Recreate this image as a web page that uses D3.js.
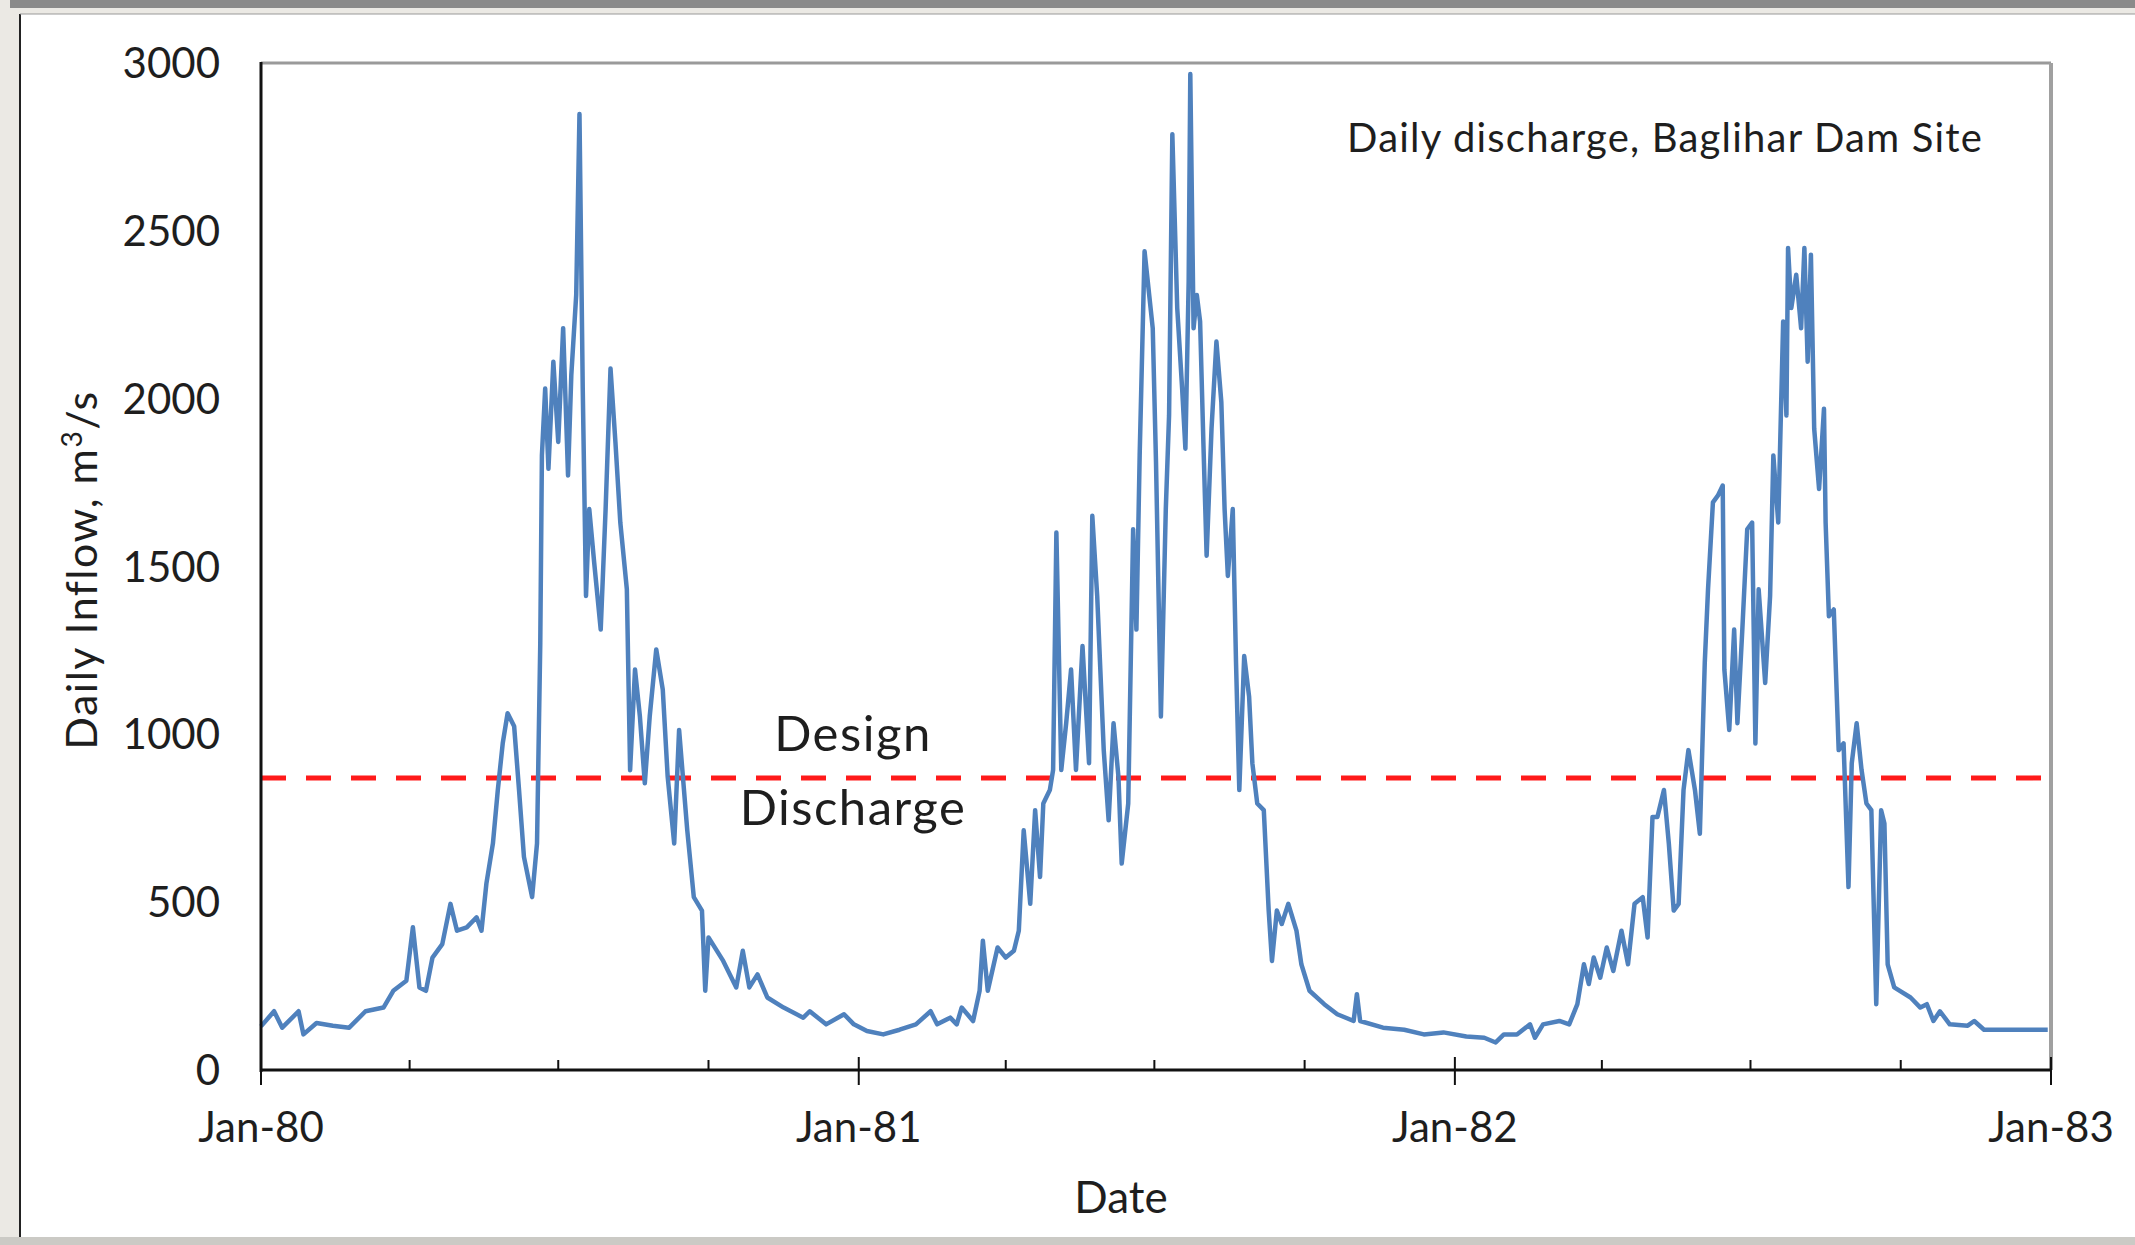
<!DOCTYPE html>
<html>
<head>
<meta charset="utf-8">
<script src="https://cdn.jsdelivr.net/npm/d3@7"></script>
<style>
  body { margin: 0; background: #ebe9e4; }
  svg { display: block; }
  text { font-family: Lato, "Open Sans", sans-serif; fill: #1e1e1e; }
</style>
</head>
<body>
<div id="chart"></div>
<script>
// Daily inflow at Baglihar dam site
// day offsets from 1 Jan 1980 and the flow (m3/s) on that day
const dayIndex = [
  0, 8, 13, 23, 26, 34, 44, 54, 64, 75, 81, 89, 93, 97, 101, 105, 111, 116, 120, 126,
  132, 135, 138, 142, 145, 148, 151, 155, 158, 161, 166, 169, 171, 172, 174, 176,
  179, 182, 185, 188, 190, 193, 195, 197, 199, 201, 204, 208, 211, 214, 217, 220,
  224, 226, 229, 232, 235, 238, 242, 246, 249, 253, 256, 261, 265, 270, 272, 274,
  283, 291, 295, 299, 304, 310, 320, 332, 336, 346, 357, 363,
  371, 381, 391, 401, 410, 414, 422, 426, 429, 436, 440, 442, 445, 451, 456, 461,
  464, 467, 471, 474, 477, 479, 483, 485, 487, 490, 493, 496, 499, 503, 507, 509,
  512, 516, 519, 522, 525, 527, 531, 534, 536, 538, 541, 546, 548, 551, 554, 556,
  558, 561, 564, 566, 568, 569, 571, 573, 575, 577, 579, 582, 585, 588, 590, 592,
  595, 597, 599, 602, 605, 607, 610, 614, 617, 619, 622, 625, 629, 634, 637, 642,
  651, 659, 669, 671, 673, 687, 700, 712, 724, 738,
  749, 756, 761, 769, 777, 780, 785, 795, 801, 806, 810, 813, 816, 820, 824, 828,
  833, 837, 841, 846, 849, 852, 855, 859, 862, 865, 868, 871, 874, 878, 881, 884,
  886, 889, 892, 895, 896, 899, 902, 904, 907, 910, 913, 915, 917, 921, 924, 926,
  929, 932, 934, 935, 937, 940, 943, 945, 947, 949, 951, 954, 957, 958, 960, 963,
  966, 969, 972, 974, 977, 980, 983, 986, 989, 992, 994, 996, 1000, 1010, 1016, 1020,
  1024, 1028, 1034, 1045, 1049, 1055, 1067, 1079, 1094
];
const inflow = [
  130, 175, 126, 175, 106, 140, 132, 126, 175, 186, 236, 266, 425, 246, 236, 335, 375, 495, 415, 425,
  455, 415, 555, 675, 834, 973, 1063, 1024, 834, 635, 515, 675, 1273, 1831, 2030, 1791,
  2110, 1871, 2210, 1771, 2070, 2309, 2848, 2030, 1412, 1671, 1512, 1312, 1671, 2090, 1871, 1631,
  1432, 893, 1193, 1053, 854, 1053, 1253, 1133, 874, 675, 1013, 714, 515, 475, 236, 395,
  325, 246, 355, 246, 285, 216, 186, 156, 175, 136, 166, 136,
  116, 106, 120, 136, 175, 136, 156, 136, 186, 146, 236, 385, 236, 365, 335, 355,
  415, 714, 495, 774, 575, 794, 834, 894, 1601, 894, 1033, 1193, 894, 1263, 914, 1651,
  1412, 953, 744, 1033, 874, 615, 794, 1611, 1312, 1831, 2439, 2210, 1811, 1053, 1671, 1950,
  2788, 2270, 2030, 1851, 2349, 2967, 2210, 2309, 2230, 1871, 1532, 1911, 2170, 1990, 1671, 1472,
  1671, 1213, 834, 1233, 1113, 914, 794, 774, 475, 325, 475, 435, 495, 415, 315, 236,
  196, 166, 146, 226, 146, 126, 120, 106, 112, 100,
  96, 82, 106, 106, 136, 96, 136, 146, 136, 196, 315, 256, 335, 275, 365, 295,
  415, 315, 495, 515, 395, 754, 754, 834, 675, 475, 495, 834, 953, 834, 704, 1213,
  1432, 1691, 1711, 1741, 1193, 1013, 1312, 1033, 1312, 1611, 1631, 973, 1432, 1153, 1412, 1831,
  1631, 2230, 1950, 2449, 2270, 2369, 2210, 2449, 2110, 2429, 1911, 1731, 1970, 1631, 1352, 1372,
  953, 973, 545, 914, 1033, 894, 794, 774, 196, 774, 734, 315, 246, 216, 186, 196,
  146, 175, 136, 132, 146, 120, 120, 120, 120
];
const yTicks = [0, 500, 1000, 1500, 2000, 2500, 3000];
const designDischarge = 870;

const W = 2135, H = 1245;
const plot = { left: 261, right: 2051, top: 63, bottom: 1070 };

const start = new Date(1980, 0, 1);
const end = new Date(1983, 0, 1);
const series = dayIndex.map((d, i) => ({ date: d3.timeDay.offset(start, d), v: inflow[i] }));

const svg = d3.select('#chart').append('svg')
  .attr('width', W)
  .attr('height', H);

// window frame around the figure
svg.append('rect').attr('width', W).attr('height', H).attr('fill', '#ebe9e4');
svg.append('rect').attr('x', 10).attr('y', 0).attr('width', W - 10).attr('height', 8).attr('fill', '#8a8a8a');
svg.append('rect').attr('x', 20).attr('y', 14).attr('width', W - 20).attr('height', 1223).attr('fill', '#fff');
svg.append('line').attr('x1', 20).attr('x2', 20).attr('y1', 14).attr('y2', 1237)
  .attr('stroke', '#222').attr('stroke-width', 2);
svg.append('line').attr('x1', 20).attr('x2', W).attr('y1', 14).attr('y2', 14)
  .attr('stroke', '#999').attr('stroke-width', 1);
svg.append('rect').attr('x', 0).attr('y', 1237).attr('width', W).attr('height', 8).attr('fill', '#cbcac5');

const x = d3.scaleTime().domain([start, end]).range([plot.left, plot.right]);
const y = d3.scaleLinear().domain([0, 3000]).range([plot.bottom, plot.top]);

// plot area border (top and right in grey)
svg.append('line').attr('x1', plot.left).attr('x2', plot.right).attr('y1', plot.top).attr('y2', plot.top)
  .attr('stroke', '#9a9a9a').attr('stroke-width', 3);
svg.append('line').attr('x1', plot.right).attr('x2', plot.right).attr('y1', plot.top).attr('y2', plot.bottom)
  .attr('stroke', '#a0a0a0').attr('stroke-width', 4);

// y tick labels
svg.append('g').selectAll('text')
  .data(yTicks)
  .join('text')
  .attr('x', 220)
  .attr('y', d => y(d))
  .attr('dy', '0.36em')
  .attr('text-anchor', 'end')
  .style('font-size', '42px')
  .text(d => d);

// design discharge line
svg.append('line')
  .attr('x1', plot.left).attr('x2', plot.right)
  .attr('y1', y(designDischarge)).attr('y2', y(designDischarge))
  .attr('stroke', '#ff1a1a')
  .attr('stroke-width', 5)
  .attr('stroke-dasharray', '25 20');

// discharge series
const line = d3.line()
  .x(d => x(d.date))
  .y(d => y(d.v));

svg.append('path')
  .datum(series)
  .attr('fill', 'none')
  .attr('stroke', '#4f81bd')
  .attr('stroke-width', 4.5)
  .attr('stroke-linejoin', 'round')
  .attr('d', line);

// axes lines
svg.append('line').attr('x1', plot.left).attr('x2', plot.left).attr('y1', plot.top - 1).attr('y2', plot.bottom + 2)
  .attr('stroke', '#111').attr('stroke-width', 3);
svg.append('line').attr('x1', plot.left).attr('x2', plot.right).attr('y1', plot.bottom).attr('y2', plot.bottom)
  .attr('stroke', '#111').attr('stroke-width', 3);

// minor ticks (quarters) and major ticks (years)
const minor = d3.timeMonth.range(start, end, 3).filter(d => d.getMonth() !== 0);
svg.append('g').selectAll('line')
  .data(minor)
  .join('line')
  .attr('x1', d => x(d)).attr('x2', d => x(d))
  .attr('y1', plot.bottom - 10).attr('y2', plot.bottom)
  .attr('stroke', '#111').attr('stroke-width', 2);

const years = d3.timeYear.range(start, d3.timeDay.offset(end, 1));
svg.append('g').selectAll('line')
  .data(years)
  .join('line')
  .attr('x1', d => x(d)).attr('x2', d => x(d))
  .attr('y1', plot.bottom - 13).attr('y2', plot.bottom + 15)
  .attr('stroke', '#111').attr('stroke-width', 2);

const fmt = d3.timeFormat('%b-%y');
svg.append('g').selectAll('text')
  .data(years)
  .join('text')
  .attr('x', d => x(d))
  .attr('y', 1127)
  .attr('dy', '0.36em')
  .attr('text-anchor', 'middle')
  .style('font-size', '42px')
  .text(d => fmt(d));

// axis titles
svg.append('text')
  .attr('x', 1121).attr('y', 1197).attr('dy', '0.36em')
  .attr('text-anchor', 'middle')
  .style('font-size', '44px')
  .text('Date');

svg.append('text')
  .attr('transform', 'translate(82,570) rotate(-90)')
  .attr('dy', '0.36em')
  .attr('text-anchor', 'middle')
  .style('font-size', '43px')
  .style('letter-spacing', '1.5px')
  .html('Daily Inflow, m<tspan dy="-15" style="font-size:28px">3</tspan><tspan dy="15">/s</tspan>');

// annotations
svg.append('text')
  .attr('x', 1983).attr('y', 138).attr('dy', '0.36em')
  .attr('text-anchor', 'end')
  .style('font-size', '40px')
  .style('letter-spacing', '1.2px')
  .text('Daily discharge, Baglihar Dam Site');

svg.append('text')
  .attr('x', 853).attr('y', 733).attr('dy', '0.36em')
  .attr('text-anchor', 'middle')
  .style('font-size', '49px')
  .style('letter-spacing', '1.5px')
  .text('Design');
svg.append('text')
  .attr('x', 853).attr('y', 807).attr('dy', '0.36em')
  .attr('text-anchor', 'middle')
  .style('font-size', '49px')
  .style('letter-spacing', '1.5px')
  .text('Discharge');
</script>
</body>
</html>
